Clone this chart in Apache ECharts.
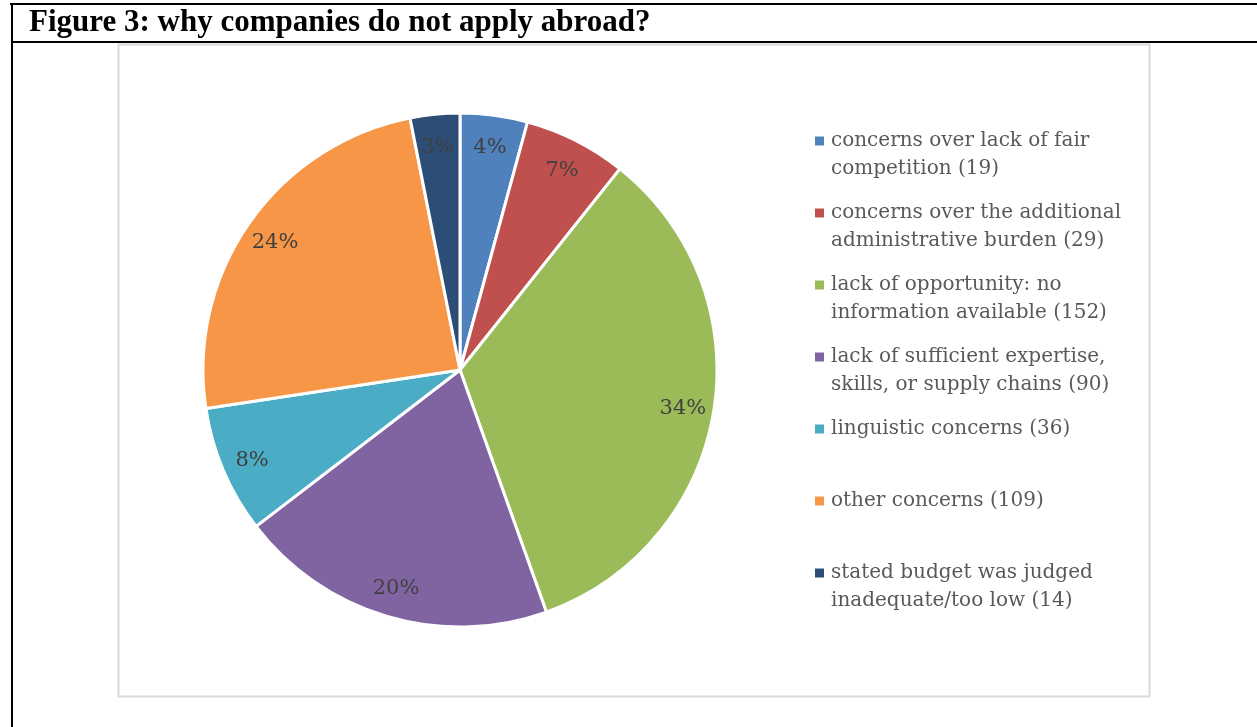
<!DOCTYPE html>
<html>
<head>
<meta charset="utf-8">
<script src="https://cdn.jsdelivr.net/npm/echarts@6/dist/echarts.min.js"></script>
<style>
  html, body { margin: 0; padding: 0; background: #fff; }
  #chart { width: 1257px; height: 727px; }
</style>
</head>
<body>
<div id="chart"></div>
<script>
// Reasons given (line breaks as set in the legend) and number of responses
const categories = [
  'concerns over lack of fair\ncompetition',
  'concerns over the additional\nadministrative burden',
  'lack of opportunity: no\ninformation available',
  'lack of sufficient expertise,\nskills, or supply chains',
  'linguistic concerns',
  'other concerns',
  'stated budget was judged\ninadequate/too low'
];
const counts = [19, 29, 152, 90, 36, 109, 14];
const colors = ['#4F81BD', '#C0504D', '#9BBB59', '#8064A2', '#4BACC6', '#F79646', '#2C4D75'];
const titleText = 'Figure 3: why companies do not apply abroad?';

// whole-number shares that add up to 100 (largest remainder rounding)
function roundedShares(values) {
  const total = values.reduce((a, b) => a + b, 0);
  const raw = values.map(v => v / total * 100);
  const out = raw.map(Math.floor);
  let left = 100 - out.reduce((a, b) => a + b, 0);
  const order = raw.map((r, i) => [r - Math.floor(r), i]).sort((a, b) => b[0] - a[0]);
  for (let k = 0; k < left; k++) out[order[k][1]] += 1;
  return out;
}
const shares = roundedShares(counts);

const names = categories.map((c, i) => c + ' (' + counts[i] + ')');
const data = names.map((n, i) => ({ name: n, value: counts[i], itemStyle: { color: colors[i] } }));

const rich = {
  t: { fontFamily: 'DejaVu Serif', fontSize: 20, color: '#595959', lineHeight: 28 },
  gap: { width: 7, height: 28 },
  ind: { width: 16, height: 28 }
};
colors.forEach((c, i) => { rich['mk' + i] = { width: 9, height: 9, backgroundColor: c }; });

const chart = echarts.init(document.getElementById('chart'), null, { renderer: 'canvas' });
chart.setOption({
  animation: false,
  backgroundColor: '#ffffff',
  title: {
    text: titleText,
    left: 24, top: 2,
    textStyle: { fontFamily: 'Liberation Serif', fontWeight: 'bold', fontSize: 31, color: '#000' }
  },
  graphic: [
    // table frame
    { type: 'line', shape: { x1: 10, y1: 4, x2: 1257, y2: 4 }, style: { stroke: '#000', lineWidth: 2 } },
    { type: 'line', shape: { x1: 12, y1: 3, x2: 12, y2: 727 }, style: { stroke: '#000', lineWidth: 2 } },
    { type: 'line', shape: { x1: 11, y1: 42, x2: 1257, y2: 42 }, style: { stroke: '#000', lineWidth: 2 } },
    // chart area border
    { type: 'rect', shape: { x: 118.5, y: 44.5, width: 1031, height: 652 }, style: { fill: 'none', stroke: '#D9D9D9', lineWidth: 2 }, z: -1 }
  ],
  legend: {
    orient: 'vertical',
    left: 804, top: 122,
    itemGap: 16,
    itemWidth: 0, itemHeight: 0,
    icon: 'rect',
    selectedMode: false,
    data: names,
    textStyle: { rich: rich, lineHeight: 28 },
    formatter: function (name) {
      const i = names.indexOf(name);
      const lines = name.split('\n');
      let s = '{mk' + i + '|}{gap|}{t|' + lines[0] + '}';
      for (let k = 1; k < lines.length; k++) s += '\n{ind|}{t|' + lines[k] + '}';
      if (lines.length === 1) s += '\n{ind|}';
      return s;
    }
  },
  series: [
    {
      type: 'pie',
      center: [460, 370],
      radius: [0, 257],
      startAngle: 90,
      clockwise: true,
      data: data,
      label: { show: false },
      labelLine: { show: false },
      itemStyle: { borderColor: '#ffffff', borderWidth: 3 },
      emphasis: { disabled: true }
    },
    {
      // ring that only carries the percentage labels near the rim
      type: 'pie',
      center: [460, 372],
      radius: [189, 257],
      startAngle: 90,
      clockwise: true,
      silent: true,
      data: data.map(d => ({ name: d.name, value: d.value })),
      itemStyle: { color: 'rgba(0,0,0,0)', borderWidth: 0 },
      label: {
        show: true,
        position: 'inside',
        fontFamily: 'DejaVu Serif',
        fontSize: 21,
        color: '#404040',
        formatter: function (p) { return shares[p.dataIndex] + '%'; }
      },
      labelLine: { show: false },
      emphasis: { disabled: true }
    }
  ]
});
</script>
</body>
</html>
